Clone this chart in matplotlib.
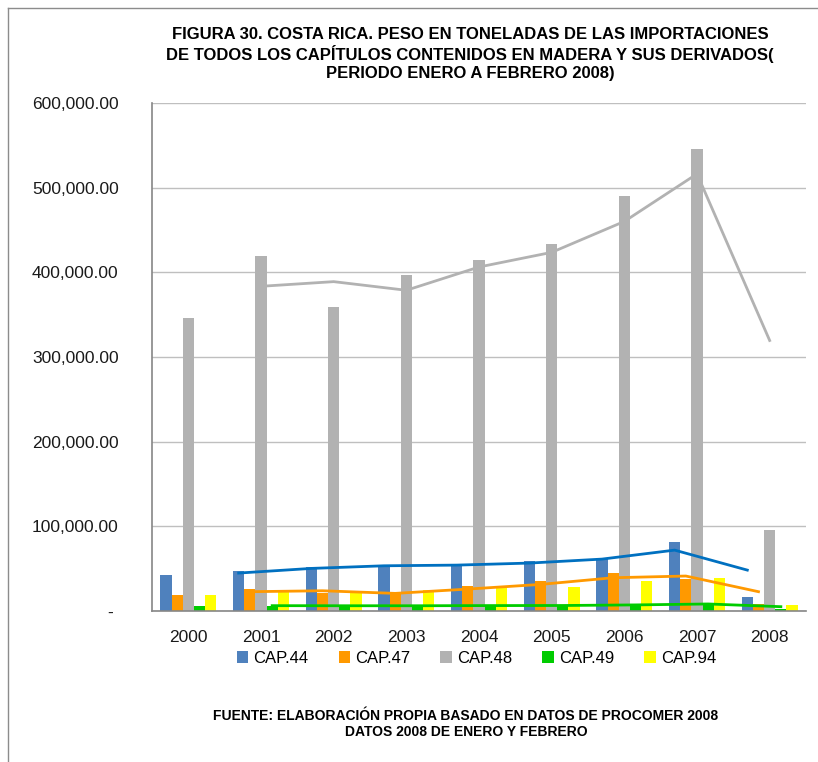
import matplotlib.pyplot as plt
from matplotlib.lines import Line2D
import numpy as np

years = ['2000', '2001', '2002', '2003', '2004', '2005', '2006', '2007', '2008']
series = ['CAP.44', 'CAP.47', 'CAP.48', 'CAP.49', 'CAP.94']

cap44 = [42800, 47500, 51500, 53400, 54200, 58900, 62100, 81000, 16900]
cap47 = [18500, 25900, 20800, 21600, 29800, 35700, 44800, 37300, 8300]
cap48 = [346600, 419300, 359500, 397300, 415000, 433400, 490400, 545800, 95500]
cap49 = [5500, 5500, 6000, 6000, 6500, 6000, 7000, 8500, 2400]
cap94 = [18500, 22000, 20800, 24800, 27500, 28700, 35000, 39300, 7100]

# trend lines (moving average), 2001..2008
trend44 = [44800, 50300, 53400, 54200, 56600, 61300, 71900, 48300]
trend47 = [22800, 23900, 20800, 25900, 31400, 39300, 41300, 22800]
trend48 = [383500, 389000, 378800, 406300, 423600, 460100, 516300, 319500]
trend49 = [6300, 6200, 6200, 6400, 6500, 7200, 8300, 5100]

bar_colors = ['#4F81BD', '#FF9900', '#B2B2B2', '#00CC00', '#FFFF00']
line_colors = ['#0070C0', '#FF9900', '#B2B2B2', '#00CC00']

plt.rcParams['font.family'] = ['Liberation Sans', 'DejaVu Sans']

fig = plt.figure(figsize=(8.18, 7.62), dpi=100)
ax = fig.add_axes([152 / 818, 1 - 611 / 762, 654 / 818, 508 / 762])

x = np.arange(len(years))
w = 1 / 6.5
values = [cap44, cap47, cap48, cap49, cap94]
for i, (vals, c, name) in enumerate(zip(values, bar_colors, series)):
    ax.bar(x + (i - 2) * w, vals, w, color=c, label=name, zorder=2)

trends = [trend44, trend47, trend48, trend49]
for i, (tv, c) in enumerate(zip(trends, line_colors)):
    ax.plot(x[1:] + (i - 2) * w, tv, color=c, lw=2.0, zorder=3)

ax.set_xlim(-0.5, len(years) - 0.5)
ax.set_ylim(0, 600000)
ax.set_yticks(np.arange(0, 600001, 100000))
ax.set_yticklabels(['- '] + [f'{v:,.2f}' for v in range(100000, 600001, 100000)], fontsize=12.5)
ax.set_xticks(x)
ax.set_xticklabels(years, fontsize=12.5)
ax.tick_params(axis='y', length=0, pad=24, colors='#1a1a1a')
ax.tick_params(axis='x', length=0, pad=14, colors='#1a1a1a')
ax.grid(axis='y', color='#BFBFBF', lw=1, zorder=0)
for s in ['top', 'right']:
    ax.spines[s].set_visible(False)
ax.spines['left'].set_color('#868686')
ax.spines['bottom'].set_color('#868686')
ax.spines['left'].set_linewidth(1.2)
ax.spines['bottom'].set_linewidth(1.2)

ax.legend(loc='upper center', bbox_to_anchor=(0.496, -0.065), ncol=5, frameon=False,
          fontsize=12, handlelength=0.7, handleheight=0.7,
          handletextpad=0.3, columnspacing=1.8, borderaxespad=0)

fig.text(470 / 818, 1 - 54 / 762,
         'FIGURA 30. COSTA RICA. PESO EN TONELADAS DE LAS IMPORTACIONES\n'
         'DE TODOS LOS CAPÍTULOS CONTENIDOS EN MADERA Y SUS DERIVADOS(\n'
         'PERIODO ENERO A FEBRERO 2008)',
         ha='center', va='center', fontsize=12, fontweight='bold', linespacing=1.22)
fig.text(466 / 818, 1 - 724 / 762,
         'FUENTE: ELABORACIÓN PROPIA BASADO EN DATOS DE PROCOMER 2008\n'
         'DATOS 2008 DE ENERO Y FEBRERO',
         ha='center', va='center', fontsize=10, fontweight='bold', linespacing=1.2)

# chart area border
fig.add_artist(Line2D([8 / 818, 8 / 818], [1 - 8 / 762, 0], color='#8C8C8C', lw=1))
fig.add_artist(Line2D([8 / 818, 1], [1 - 8 / 762, 1 - 8 / 762], color='#8C8C8C', lw=1))

fig.savefig('out.png', dpi=100)
